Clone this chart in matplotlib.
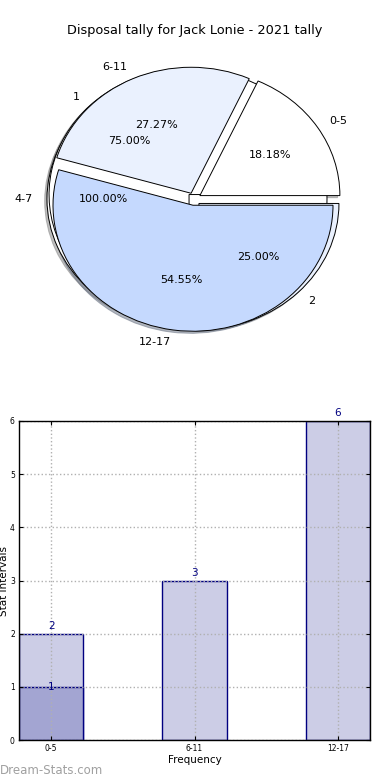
import matplotlib
matplotlib.use("Agg")
import matplotlib.pyplot as plt

title = "Disposal tally for Jack Lonie - 2021 tally"

# pie layers (drawn bottom to top)
back_labels = ["4-7"]
back_values = [1]
mid_labels = ["1", "2"]
mid_values = [3, 1]
pie_labels = ["0-5", "6-11", "12-17"]
pie_values = [2, 3, 6]
pie_colors = ["#ffffff", "#eaf1fe", "#c5d9fe"]

# bar chart
categories = ["0-5", "6-11", "12-17"]
counts = [2, 3, 6]
sub_counts = [1]

fig = plt.figure(figsize=(3.9, 7.8), dpi=100)

# ---- pie ----
ax1 = fig.add_axes([19 / 390, 1 - 356.5 / 780, 350 / 390, 315 / 780])
for vals, labs in [(back_values, back_labels), (mid_values, mid_labels), (pie_values, pie_labels)]:
    wedges, texts, autotexts = ax1.pie(vals, labels=labs, colors=pie_colors[:len(vals)],
                                       explode=[0.05] * len(vals), autopct="%1.2f%%",
                                       shadow={"ox": -0.012, "oy": -0.012, "shade": 0.5},
                                       startangle=0,
                                       wedgeprops={"edgecolor": "black", "linewidth": 0.7},
                                       textprops={"fontsize": 8})
ax1.set_aspect("auto")
ax1.set_xlim(-1.25, 1.25)
ax1.set_ylim(-1.25, 1.25)
ax1.axis("off")
fig.text(0.5, 0.961, title, ha="center", va="center", fontsize=9.3)

# ---- bars ----
ax2 = fig.add_axes([19 / 390, 40 / 780, 351 / 390, 319 / 780])
x = list(range(len(categories)))
ax2.bar(x, counts, width=0.45, color="#cccde6", edgecolor="#000080", linewidth=1, zorder=1)
ax2.bar(x[:len(sub_counts)], sub_counts, width=0.45, color="#a3a5d2", edgecolor="#000080",
        linewidth=1, zorder=1)
for xi, c in zip(x, counts):
    ax2.annotate(str(c), (xi, c), xytext=(0, 2), textcoords="offset points",
                 ha="center", va="bottom", fontsize=7.5, color="#000080", annotation_clip=False)
for xi, c in zip(x, sub_counts):
    ax2.text(xi, c, str(c), ha="center", va="center", fontsize=7.5, color="#000080")

ax2.set_xlim(-0.225, 2.225)
ax2.set_ylim(0, 6)
ax2.set_xticks(x)
ax2.set_xticklabels(categories)
ax2.set_yticks(range(7))
ax2.tick_params(labelsize=5.5, direction="in", length=3, right=True, top=True, pad=3)
ax2.grid(True, color="#b0b0b0", linestyle=":", linewidth=1, zorder=2)
ax2.set_axisbelow(False)
for sp in ax2.spines.values():
    sp.set_zorder(4)
    sp.set_linewidth(1)
ax2.set_xlabel("Frequency", fontsize=7.5, labelpad=1)
ax2.set_ylabel("Stat Intervals", fontsize=7.5)
ax2.yaxis.set_label_coords(-0.028, 0.5)

fig.text(0.0, 0.012, "Dream-Stats.com", fontsize=8.5, color="#a0a0a0",
         ha="left", va="center")

fig.savefig("out.png", dpi=100)
